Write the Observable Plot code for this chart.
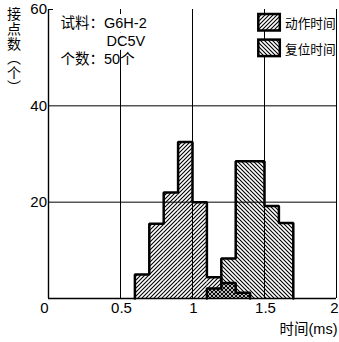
<!DOCTYPE html>
<html><head><meta charset="utf-8">
<script src="https://cdn.jsdelivr.net/npm/d3@7"></script>
<script src="https://cdn.jsdelivr.net/npm/@observablehq/plot@0.6"></script>
<style>
body{margin:0;background:#fff;}
#wrap{position:relative;width:339px;height:342px;}
#ylab{position:absolute;left:7px;top:7px;writing-mode:vertical-rl;font-family:"Noto Sans CJK SC",sans-serif;font-size:14px;line-height:14px;letter-spacing:0.6px;color:#000;}
</style></head><body>
<div id="wrap"><div id="ylab"></div></div>
<script>
const binWidth = 0.1;
const operateStarts = [0.6, 0.7, 0.8, 0.9, 1.0, 1.1, 1.2, 1.3];
const operateCounts = [5, 15.5, 22, 32.5, 20, 4.4, 3.2, 1.2];
const releaseStarts = [1.1, 1.2, 1.3, 1.4, 1.5, 1.6];
const releaseCounts = [2.1, 8.3, 28.5, 28.5, 19.2, 15.7];
const seriesNames = ["动作时间", "复位时间"];
const xTicks = [0, 0.5, 1, 1.5, 2];
const xTickLabels = ["0", "0.5", "1", "1.5", "2"];
const yTicks = [20, 40, 60];
const xGrid = [0.5, 1, 1.5, 2];
const yGrid = [20, 40];
const noteLine1 = ["试料：G6H-2"];
const noteLine2 = ["DC5V"];
const noteLine3 = ["个数：50个"];
const xLabel = "时间(ms)";
const yLabel = "接点数（个）";

const bins = (starts, counts) => starts.map((s, i) => ({x1: s, x2: s + binWidth, n: counts[i]}));
function outline(starts, counts) {
  const pts = [{x: starts[0], y: 0}];
  starts.forEach((s, i) => pts.push({x: s, y: counts[i]}));
  const end = starts[starts.length - 1] + binWidth;
  pts.push({x: end, y: counts[counts.length - 1]});
  pts.push({x: end, y: 0});
  return pts;
}
const fmt = d => xTickLabels[xTicks.indexOf(d)];
const first = xTicks.slice(0, 1), middle = xTicks.slice(1, -1), last = xTicks.slice(-1);

const latin = "'Liberation Sans', Arial, 'Noto Sans CJK SC', sans-serif";
const noteStyle = {frameAnchor: "top-left", textAnchor: "start", lineAnchor: "middle", fontSize: 14.5, fill: "black"};
const chart = Plot.plot({
  width: 339, height: 342,
  marginLeft: 48, marginRight: 3, marginTop: 9, marginBottom: 44,
  x: {domain: [0, 2]},
  y: {domain: [0, 60]},
  style: {fontFamily: latin, fontSize: "15px", color: "black", background: "white"},
  marks: [
    Plot.rectY(bins(operateStarts, operateCounts), {x1: "x1", x2: "x2", y: "n", fill: "url(#hatchOp)"}),
    Plot.rectY(bins(releaseStarts, releaseCounts), {x1: "x1", x2: "x2", y: "n", fill: "url(#hatchRel)"}),
    Plot.ruleX(xGrid, {stroke: "black", strokeWidth: 1}),
    Plot.ruleY(yGrid, {stroke: "black", strokeWidth: 1}),
    Plot.ruleY([60], {stroke: "black", strokeWidth: 1, insetRight: 283}),
    Plot.line(outline(operateStarts, operateCounts), {x: "x", y: "y", curve: "step-after", stroke: "black", strokeWidth: 2.5, strokeLinejoin: "miter"}),
    Plot.line(outline(releaseStarts, releaseCounts), {x: "x", y: "y", curve: "step-after", stroke: "black", strokeWidth: 2.5, strokeLinejoin: "miter"}),
    Plot.ruleX([0], {stroke: "black", strokeWidth: 1.4}),
    Plot.ruleY([0], {stroke: "black", strokeWidth: 1.4}),
    Plot.axisX(first, {tickSize: 0, tickPadding: 3.5, fontSize: 15, label: null, tickFormat: fmt, dx: -4}),
    Plot.axisX(middle, {tickSize: 0, tickPadding: 3.5, fontSize: 15, label: null, tickFormat: fmt, dx: 1}),
    Plot.axisX(last, {tickSize: 0, tickPadding: 3.5, fontSize: 15, label: null, tickFormat: fmt, textAnchor: "end", dx: 2}),
    Plot.axisY(yTicks, {tickSize: 0, tickPadding: 1.5, fontSize: 15, label: null}),
    Plot.text(noteLine1, {...noteStyle, dx: 12, dy: 14, stroke: "white", strokeWidth: 8}),
    Plot.text(noteLine2, {...noteStyle, dx: 58, dy: 31.5, stroke: "white", strokeWidth: 8}),
    Plot.text(noteLine3, {...noteStyle, dx: 12, dy: 50}),
    Plot.text([xLabel], {frameAnchor: "bottom-right", textAnchor: "end", lineAnchor: "middle", dx: 1, dy: 31, fontSize: 14.5, fill: "black"})
  ]
});

const svg = d3.select(chart);
const defs = svg.insert("defs", ":first-child");
function addPattern(id, d) {
  defs.append("pattern").attr("id", id).attr("patternUnits", "userSpaceOnUse")
    .attr("width", 4).attr("height", 4)
    .append("path").attr("d", d).attr("stroke", "black").attr("stroke-width", 1.1).attr("fill", "none");
}
addPattern("hatchOp", "M-1,1 l2,-2 M0,4 l4,-4 M3,5 l2,-2");
addPattern("hatchRel", "M-1,3 l2,2 M0,0 l4,4 M3,-1 l2,2");

const legend = svg.append("g").attr("font-family", "'Noto Sans CJK SC', sans-serif").attr("font-size", 12.7).attr("text-anchor", "start");
["hatchOp", "hatchRel"].forEach((pid, i) => {
  const y0 = 14 + i * 25.6;
  legend.append("rect").attr("x", 258.3).attr("y", y0).attr("width", 21.5).attr("height", 16.5).attr("fill", "white");
  legend.append("rect").attr("x", 258.3).attr("y", y0).attr("width", 21.5).attr("height", 16.5)
    .attr("fill", `url(#${pid})`).attr("stroke", "black").attr("stroke-width", 2.5);
  legend.append("text").attr("x", 285).attr("y", y0 + 8.5).attr("dominant-baseline", "central")
    .attr("text-anchor", "start").attr("fill", "black").text(seriesNames[i]);
});

document.getElementById("wrap").prepend(chart);
document.getElementById("ylab").textContent = yLabel;
</script>
</body></html>
